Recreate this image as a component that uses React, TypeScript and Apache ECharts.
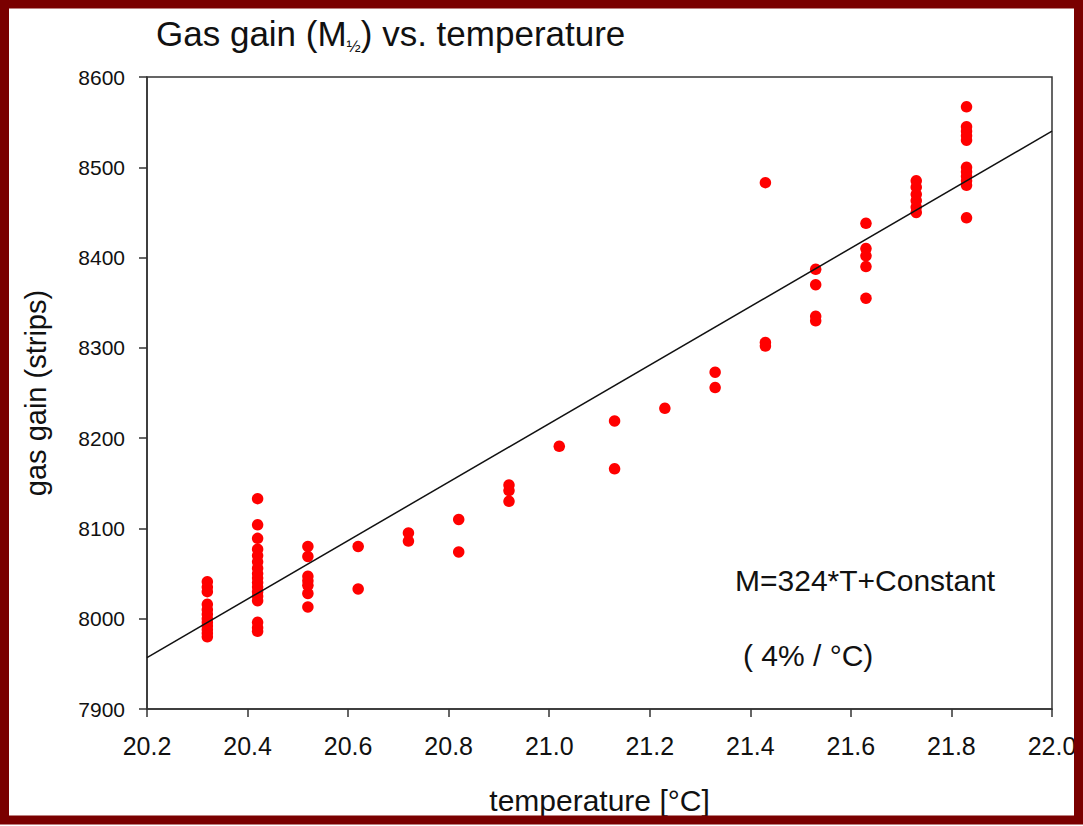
import React, { useEffect, useRef } from "react";
import * as echarts from "echarts";

// Temperature columns (°C) and the measured gas gains at each
const temperatures = [20.32, 20.42, 20.52, 20.62, 20.72, 20.82, 20.92, 21.02, 21.13, 21.23, 21.33, 21.43, 21.53, 21.63, 21.73, 21.83];
const gainsAt2032 = [8041, 8035, 8030, 8016, 8010, 8005, 8000, 7996, 7992, 7988, 7984, 7980];
const gainsAt2042 = [8133, 8104, 8089, 8077, 8070, 8063, 8056, 8050, 8045, 8040, 8035, 8030, 8025, 8020, 7996, 7990, 7986];
const gainsAt2052 = [8080, 8069, 8047, 8042, 8037, 8028, 8013];
const gainsAt2062 = [8080, 8033];
const gainsAt2072 = [8095, 8086];
const gainsAt2082 = [8110, 8074];
const gainsAt2092 = [8148, 8142, 8130];
const gainsAt2102 = [8191];
const gainsAt2113 = [8219, 8166];
const gainsAt2123 = [8233];
const gainsAt2133 = [8273, 8256];
const gainsAt2143 = [8483, 8306, 8302];
const gainsAt2153 = [8387, 8370, 8335, 8330];
const gainsAt2163 = [8438, 8410, 8402, 8390, 8355];
const gainsAt2173 = [8485, 8478, 8470, 8463, 8456, 8450];
const gainsAt2183 = [8567, 8545, 8540, 8535, 8530, 8500, 8495, 8490, 8485, 8480, 8444];
const gainColumns = [
  gainsAt2032, gainsAt2042, gainsAt2052, gainsAt2062, gainsAt2072, gainsAt2082, gainsAt2092, gainsAt2102,
  gainsAt2113, gainsAt2123, gainsAt2133, gainsAt2143, gainsAt2153, gainsAt2163, gainsAt2173, gainsAt2183,
];

// Linear fit M = 324*T + constant, drawn across the axis range
const fitTemps = [20.2, 22.0];
const fitGains = [7957, 8540];

const xTicks = { min: 20.2, max: 22.0, interval: 0.2 };
const yTicks = { min: 7900, max: 8600, interval: 100 };

const FONT = "'Liberation Sans', Arial, Helvetica, sans-serif";

export default function App() {
  const ref = useRef<HTMLDivElement>(null);

  useEffect(() => {
    if (!ref.current) return;
    const chart = echarts.init(ref.current, undefined, { renderer: "svg" });

    const scatterData: number[][] = [];
    temperatures.forEach((t, i) => {
      gainColumns[i].forEach((g) => scatterData.push([t, g]));
    });
    const fitData = fitTemps.map((t, i) => [t, fitGains[i]]);

    chart.setOption({
      animation: false,
      backgroundColor: "#ffffff",
      title: {
        text: "Gas gain (M{sub|½}) vs. temperature",
        left: 151,
        top: 7,
        textStyle: {
          fontFamily: FONT,
          fontSize: 35,
          fontWeight: "normal",
          color: "#111",
          lineHeight: 43,
          rich: {
            sub: { fontFamily: FONT, fontSize: 17, lineHeight: 17, verticalAlign: "bottom", color: "#111" },
          },
        },
      },
      grid: {
        left: 147,
        top: 77,
        right: 31,
        bottom: 117,
        show: true,
        borderColor: "#333",
        borderWidth: 1.5,
        backgroundColor: "transparent",
      },
      xAxis: {
        type: "value",
        min: xTicks.min,
        max: xTicks.max,
        interval: xTicks.interval,
        name: "temperature [°C]",
        nameLocation: "middle",
        nameGap: 76,
        nameTextStyle: { fontFamily: FONT, fontSize: 30, color: "#111" },
        axisLine: { show: true, lineStyle: { color: "#333", width: 1.5 } },
        axisTick: { show: true, inside: false, length: 8, lineStyle: { color: "#333", width: 1.5 } },
        axisLabel: {
          fontFamily: FONT,
          fontSize: 25,
          color: "#111",
          margin: 24,
          formatter: (v: number) => v.toFixed(1),
        },
        splitLine: { show: false },
      },
      yAxis: {
        type: "value",
        min: yTicks.min,
        max: yTicks.max,
        interval: yTicks.interval,
        name: "gas gain (strips)",
        nameLocation: "middle",
        nameGap: 97,
        nameTextStyle: { fontFamily: FONT, fontSize: 29, color: "#111" },
        axisLine: { show: true, lineStyle: { color: "#333", width: 1.5 } },
        axisTick: { show: true, inside: false, length: 8, lineStyle: { color: "#333", width: 1.5 } },
        axisLabel: {
          fontFamily: FONT,
          fontSize: 21,
          color: "#111",
          margin: 22,
          formatter: (v: number) => String(Math.round(v)),
        },
        splitLine: { show: false },
      },
      series: [
        {
          name: "fit",
          type: "line",
          data: fitData,
          showSymbol: false,
          symbol: "none",
          lineStyle: { color: "#111", width: 1.5 },
          z: 3,
        },
        {
          name: "gain",
          type: "scatter",
          data: scatterData,
          symbol: "circle",
          symbolSize: 11.5,
          itemStyle: { color: "#ff0000", opacity: 1 },
          z: 2,
        },
      ],
      graphic: [
        {
          type: "text",
          x: 735,
          y: 580,
          style: {
            text: "M=324*T+Constant",
            fontFamily: FONT,
            fontSize: 30,
            fill: "#111",
            textVerticalAlign: "middle",
          },
        },
        {
          type: "text",
          x: 743,
          y: 655,
          style: {
            text: "( 4% / °C)",
            fontFamily: FONT,
            fontSize: 30,
            fill: "#111",
            textVerticalAlign: "middle",
          },
        },
        {
          type: "rect",
          shape: { x: 4.5, y: 4, width: 1074, height: 816 },
          style: { fill: "none", stroke: "#7a0000", lineWidth: 9 },
          silent: true,
          z: 100,
        },
      ],
    });

    return () => chart.dispose();
  }, []);

  return (
    <div
      ref={ref}
      style={{ position: "absolute", left: 0, top: 0, width: 1083, height: 826 }}
    />
  );
}
